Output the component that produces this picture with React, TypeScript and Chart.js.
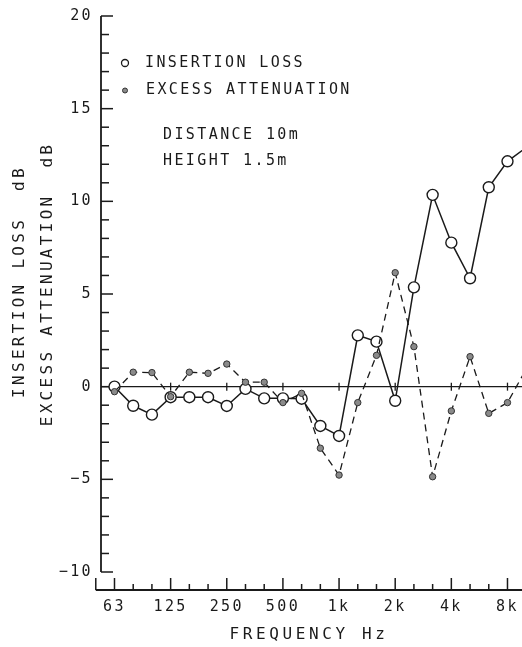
import React, { useEffect, useRef } from 'react';
import { Chart, registerables } from 'chart.js';

Chart.register(...registerables);

// Third-octave band centre frequencies (index 0 = 63 Hz)
const bands = ['63', '80', '100', '125', '160', '200', '250', '315', '400', '500', '630', '800', '1k', '1.25k', '1.6k', '2k', '2.5k', '3.15k', '4k', '5k', '6.3k', '8k', '10k'];
const insertionLoss = [0.0, -1.03, -1.51, -0.57, -0.57, -0.57, -1.04, -0.12, -0.63, -0.63, -0.65, -2.12, -2.66, 2.77, 2.43, -0.76, 5.36, 10.35, 7.77, 5.85, 10.76, 12.16, 12.9];
const excessAttenuation = [-0.27, 0.78, 0.76, -0.54, 0.78, 0.72, 1.22, 0.24, 0.24, -0.86, -0.36, -3.32, -4.77, -0.86, 1.69, 6.15, 2.16, -4.86, -1.31, 1.62, -1.44, -0.86, 0.95];
const octaveIndex = [0, 3, 6, 9, 12, 15, 18, 21];
const octaveLabels = ['63', '125', '250', '500', '1k', '2k', '4k', '8k'];
const yMajorTicks = [-10, -5, 0, 5, 10, 15, 20];
const legendLabels = ['INSERTION LOSS', 'EXCESS ATTENUATION'];
const notes = ['DISTANCE 10m', 'HEIGHT 1.5m'];
const xTitle = 'FREQUENCY Hz';
const yTitles = ['INSERTION LOSS  dB', 'EXCESS ATTENUATION  dB'];

export default function App() {
  const ref = useRef<HTMLCanvasElement>(null);

  useEffect(() => {
    document.body.style.margin = '0';
    const canvas = ref.current!;
    const FONT = '"DejaVu Sans Mono", monospace';
    const ink = '#1a1a1a';
    const lastBand = bands.length - 1;

    const decor = {
      id: 'decor',
      beforeDraw(chart: any) {
        const ctx = chart.ctx;
        ctx.save();
        ctx.fillStyle = '#ffffff';
        ctx.fillRect(0, 0, chart.width, chart.height);
        ctx.restore();
        (ctx as any).letterSpacing = '2.4px';
      },
      beforeDatasetsDraw(chart: any) {
        const ctx = chart.ctx;
        const xs = chart.scales.x;
        const ys = chart.scales.y;
        const area = chart.chartArea;
        ctx.save();
        ctx.strokeStyle = ink;
        ctx.lineCap = 'butt';
        // y axis
        ctx.lineWidth = 1.8;
        ctx.beginPath();
        ctx.moveTo(area.left, ys.getPixelForValue(20));
        ctx.lineTo(area.left, ys.getPixelForValue(-10));
        ctx.stroke();
        ctx.lineWidth = 1.5;
        for (let v = -10; v <= 20; v++) {
          const y = ys.getPixelForValue(v);
          const len = v % 5 === 0 ? 12 : 8;
          ctx.beginPath();
          ctx.moveTo(area.left, y);
          ctx.lineTo(area.left + len, y);
          ctx.stroke();
        }
        // zero line
        const y0 = ys.getPixelForValue(0);
        ctx.lineWidth = 1.3;
        ctx.beginPath();
        ctx.moveTo(area.left, y0);
        ctx.lineTo(chart.width, y0);
        ctx.stroke();
        for (const i of octaveIndex) {
          const x = xs.getPixelForValue(i);
          ctx.beginPath();
          ctx.moveTo(x, y0 - 4);
          ctx.lineTo(x, y0 + 4);
          ctx.stroke();
        }
        // x axis, set a little below the plot
        const yb = area.bottom + 18;
        ctx.lineWidth = 1.8;
        ctx.beginPath();
        ctx.moveTo(xs.getPixelForValue(-1), yb);
        ctx.lineTo(chart.width, yb);
        ctx.stroke();
        ctx.lineWidth = 1.5;
        for (let i = -1; i < bands.length; i++) {
          const x = xs.getPixelForValue(i);
          const major = i === -1 || octaveIndex.includes(i);
          ctx.beginPath();
          ctx.moveTo(x, yb);
          ctx.lineTo(x, yb - (major ? 12 : 6));
          ctx.stroke();
        }
        ctx.restore();
      },
      afterDraw(chart: any) {
        const ctx = chart.ctx;
        ctx.save();
        ctx.strokeStyle = ink;
        // legend markers
        ctx.lineWidth = 1.3;
        ctx.fillStyle = '#ffffff';
        ctx.beginPath();
        ctx.arc(125, 63, 3.5, 0, Math.PI * 2);
        ctx.fill();
        ctx.stroke();
        ctx.fillStyle = '#8a8a8a';
        ctx.strokeStyle = '#333';
        ctx.lineWidth = 1;
        ctx.beginPath();
        ctx.arc(125, 90.5, 2.5, 0, Math.PI * 2);
        ctx.fill();
        ctx.stroke();
        // legend and notes text
        ctx.fillStyle = ink;
        ctx.font = `15px ${FONT}`;
        (ctx as any).letterSpacing = '2.4px';
        ctx.textAlign = 'left';
        ctx.textBaseline = 'middle';
        ctx.fillText(legendLabels[0], 145, 63.5);
        ctx.fillText(legendLabels[1], 146, 90.5);
        ctx.fillText(notes[0], 163, 135);
        ctx.fillText(notes[1], 163, 161.5);
        // axis titles
        ctx.font = `16px ${FONT}`;
        (ctx as any).letterSpacing = '3.6px';
        ctx.textAlign = 'center';
        ctx.fillText(xTitle, 309, 635);
        (ctx as any).letterSpacing = '3.3px';
        const yt = [[20, 281.5], [47.5, 284]];
        yTitles.forEach((t, k) => {
          ctx.save();
          ctx.translate(yt[k][0], yt[k][1]);
          ctx.rotate(-Math.PI / 2);
          ctx.fillText(t, 0, 0);
          ctx.restore();
        });
        ctx.restore();
      },
    };

    const chart = new Chart(canvas, {
      type: 'line',
      data: {
        datasets: [
          {
            label: legendLabels[1],
            data: excessAttenuation.map((y, i) => ({ x: i, y })),
            borderColor: ink,
            borderWidth: 1.3,
            borderDash: [7, 5],
            pointRadius: (c: any) => (c.dataIndex === lastBand ? 0 : 3.2),
            pointBackgroundColor: '#8a8a8a',
            pointBorderColor: '#333333',
            pointBorderWidth: 1,
            tension: 0,
            clip: false,
          },
          {
            label: legendLabels[0],
            data: insertionLoss.map((y, i) => ({ x: i, y })),
            borderColor: ink,
            borderWidth: 1.5,
            pointRadius: (c: any) => (c.dataIndex === lastBand ? 0 : 5.5),
            pointBackgroundColor: '#ffffff',
            pointBorderColor: ink,
            pointBorderWidth: 1.4,
            tension: 0,
            clip: false,
          },
        ],
      },
      options: {
        responsive: false,
        animation: false,
        devicePixelRatio: 1,
        events: [],
        layout: { padding: { top: 16, right: 0, left: 0, bottom: 0 } },
        plugins: { legend: { display: false }, tooltip: { enabled: false } },
        scales: {
          x: {
            type: 'linear',
            min: -0.721,
            max: 21.407,
            grid: { display: false, drawTicks: false },
            border: { display: false },
            afterBuildTicks: (s: any) => {
              s.ticks = octaveIndex.map((v) => ({ value: v }));
            },
            afterFit: (s: any) => {
              s.height = 75;
              s.paddingLeft = 0;
              s.paddingRight = 0;
            },
            ticks: {
              autoSkip: false,
              maxRotation: 0,
              padding: 26,
              color: ink,
              font: { family: FONT, size: 15 },
              callback: (v: any) => {
                const k = octaveIndex.indexOf(Number(v));
                return k >= 0 ? octaveLabels[k] : '';
              },
            },
          },
          y: {
            type: 'linear',
            min: -10,
            max: 20,
            grid: { display: false, drawTicks: false },
            border: { display: false },
            afterBuildTicks: (s: any) => {
              s.ticks = yMajorTicks.map((v) => ({ value: v }));
            },
            afterFit: (s: any) => {
              s.width = 101;
              s.paddingTop = 0;
              s.paddingBottom = 0;
            },
            ticks: {
              padding: 8,
              color: ink,
              font: { family: FONT, size: 15 },
              callback: (v: any) => String(v).replace('-', '\u2212'),
            },
          },
        },
      },
      plugins: [decor],
    });

    return () => chart.destroy();
  }, []);

  return <canvas ref={ref} width={522} height={647} style={{ display: 'block' }} />;
}
